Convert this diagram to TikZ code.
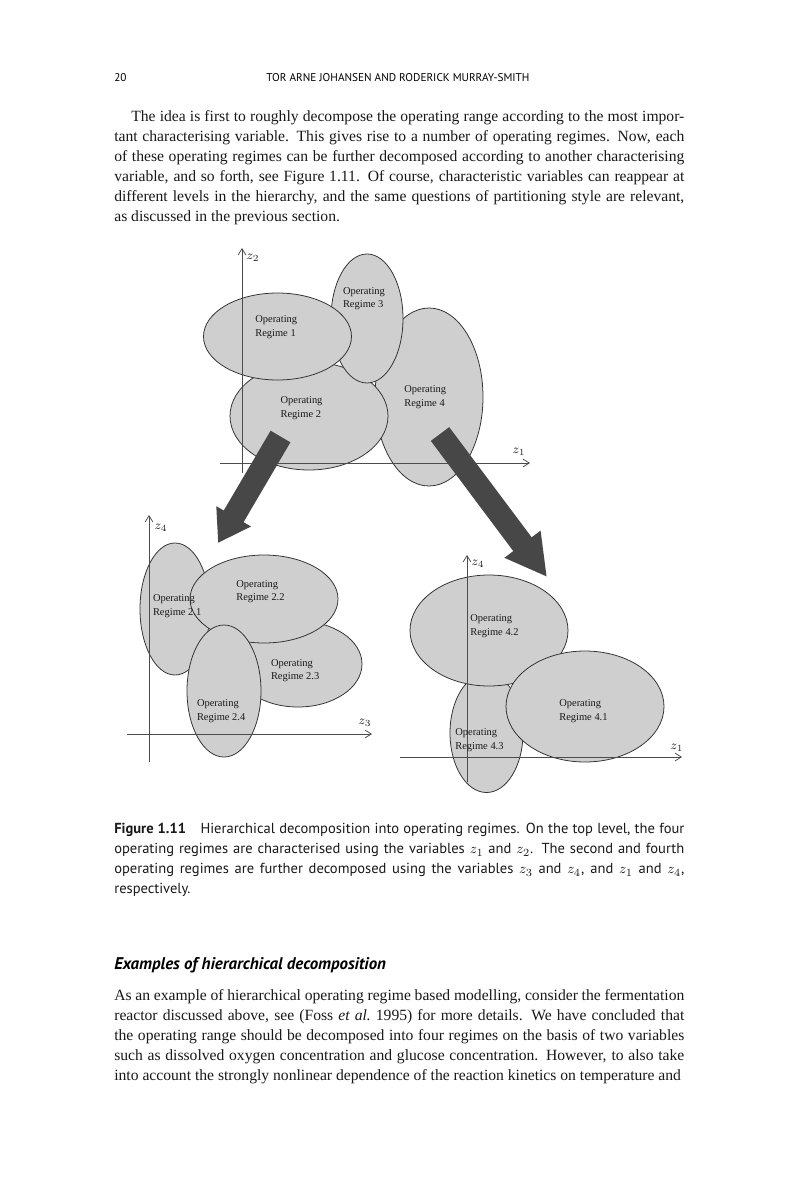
\documentclass[tikz,border=0pt]{standalone}
\usepackage{fontspec}
\setmainfont{Liberation Serif}
\newfontfamily\captionsans{PT Sans}
\usetikzlibrary{shapes.geometric,arrows.meta}

\tikzset{
  regime/.style 2 args={ellipse, draw=black!80, fill=black!19, line width=0.5pt,
    inner sep=0pt, minimum width={#1*1.28pt}, minimum height={#2*1.28pt}},
  regimelabel/.style={anchor=west, align=left, inner sep=0pt, text=black!90,
    font=\fontsize{6.7}{8.8}\selectfont},
  axis/.style={draw=black!70, line width=0.5pt, -{Straight Barb[length=4pt,width=5pt]}},
  axislabel/.style={inner sep=0pt, text=black!85, font=\fontsize{8.5}{10}\selectfont},
  bigarrow/.style={draw=black!72, line width=14.7pt},
  textblock/.style={anchor=north west, inner sep=0pt, text width=364.8pt,
    align=justify, text=black!90}
}

\begin{document}
\begin{tikzpicture}[x=0.64pt, y=-0.64pt]
  \fill[white] (0,0) rectangle (800,1200);
  \useasboundingbox (0,0) rectangle (800,1200);

  % Running head
  \node[anchor=base west, inner sep=0pt, font=\captionsans\fontsize{7.2}{9}\selectfont] (pagenum) at (114,81.7) {20};
  \node[anchor=base, inner sep=0pt, font=\captionsans\fontsize{7.2}{9}\selectfont] (runhead) at (398,81.7) {TOR ARNE JOHANSEN AND RODERICK MURRAY-SMITH};

  % Opening paragraph
  \node[textblock, font=\fontsize{10}{12.8}\selectfont] (para1) at (114,107) {\strut\hspace*{10.9pt}The idea is first to roughly decompose the operating range according to the most impor-\linebreak
    tant characterising variable. This gives rise to a number of operating regimes. Now, each\linebreak
    of these operating regimes can be further decomposed according to another characterising\linebreak
    variable, and so forth, see Figure 1.11. Of course, characteristic variables can reappear at\linebreak
    different levels in the hierarchy, and the same questions of partitioning style are relevant,\linebreak
    as discussed in the previous section.};

  % Top level: regimes 1-4 over (z1, z2)
  \node[regime={54}{89}] (r4) at (429,397) {};
  \node[regime={79}{54}] (r2) at (309,416) {};
  \node[regime={36}{64.5}] (r3) at (367,318.5) {};
  \node[regime={74}{43.5}] (r1) at (277.5,336.5) {};
  \draw[axis] (242,473) -- (242,248);
  \draw[axis] (220,463) -- (530,463);
  \node[axislabel] (z2top) at (253,258) {$z_2$};
  \node[axislabel] (z1top) at (519,452) {$z_1$};
  \node[regimelabel] (l1) at (255,327) {Operating\\Regime 1};
  \node[regimelabel] (l3) at (342.7,298.7) {Operating\\Regime 3};
  \node[regimelabel] (l2) at (280.3,408.3) {Operating\\Regime 2};
  \node[regimelabel] (l4) at (404,397) {Operating\\Regime 4};

  % Regime 2 split over (z3, z4)
  \node[regime={64}{43}] (r23) at (298,664) {};
  \node[regime={35}{66}] (r21) at (175,609) {};
  \node[regime={74}{44}] (r22) at (264,599) {};
  \node[regime={37}{66}] (r24) at (224,691) {};
  \draw[axis] (149,762) -- (149,515);
  \draw[axis] (127,734) -- (372,734);
  \node[axislabel] (z4left) at (161,528) {$z_4$};
  \node[axislabel] (z3left) at (365,723) {$z_3$};
  \node[regimelabel] (l21) at (152.7,605.8) {Operating\\Regime 2.1};
  \node[regimelabel] (l22) at (236,591.7) {Operating\\Regime 2.2};
  \node[regimelabel] (l23) at (270.7,670.7) {Operating\\Regime 2.3};
  \node[regimelabel] (l24) at (196.7,710.8) {Operating\\Regime 2.4};

  % Regime 4 split over (z1, z4)
  \node[regime={36.5}{59.5}] (r43) at (486.5,733) {};
  \node[regime={79}{55.5}] (r42) at (489,630.5) {};
  \node[regime={79}{55.5}] (r41) at (585,706.5) {};
  \draw[axis] (467,782) -- (467,555);
  \draw[axis] (400,757) -- (682,757);
  \node[axislabel] (z4right) at (478,564) {$z_4$};
  \node[axislabel] (z1right) at (677,748) {$z_1$};
  \node[regimelabel] (l42) at (470,626.5) {Operating\\Regime 4.2};
  \node[regimelabel] (l41) at (559,711) {Operating\\Regime 4.1};
  \node[regimelabel] (l43) at (455,740.5) {Operating\\Regime 4.3};

  % Decomposition arrows
  \coordinate (from2) at (280.5,436.5);
  \coordinate (to2) at (218,543);
  \coordinate (from4) at (440,434);
  \coordinate (to4) at (547,577);
  \draw[bigarrow, -{Triangle[width=24.3pt,length=19.8pt]}] (from2) -- (to2);
  \draw[bigarrow, -{Triangle[width=26.9pt,length=26.2pt]}] (from4) -- (to4);

  % Caption
  \node[textblock, font=\captionsans\fontsize{9.3}{12.8}\selectfont] (caption) at (114,819.5) {\strut\textbf{Figure 1.11}\quad Hierarchical decomposition into operating regimes. On the top level, the four\linebreak
    operating regimes are characterised using the variables $z_1$ and $z_2$. The second and fourth\linebreak
    operating regimes are further decomposed using the variables $z_3$ and $z_4$, and $z_1$ and $z_4$,\linebreak
    respectively.};

  % Section heading and following paragraph
  \node[anchor=base west, inner sep=0pt, font=\captionsans\fontsize{10.8}{13}\selectfont\bfseries\itshape] (heading) at (114,969) {Examples of hierarchical decomposition};
  \node[textblock, font=\fontsize{10}{12.8}\selectfont] (para2) at (114,986) {\parfillskip=0pt\relax\strut As an example of hierarchical operating regime based modelling, consider the fermentation\linebreak
    reactor discussed above, see (Foss \textit{et al.}\ 1995) for more details. We have concluded that\linebreak
    the operating range should be decomposed into four regimes on the basis of two variables\linebreak
    such as dissolved oxygen concentration and glucose concentration. However, to also take\linebreak
    into account the strongly nonlinear dependence of the reaction kinetics on temperature and};
\end{tikzpicture}
\end{document}
